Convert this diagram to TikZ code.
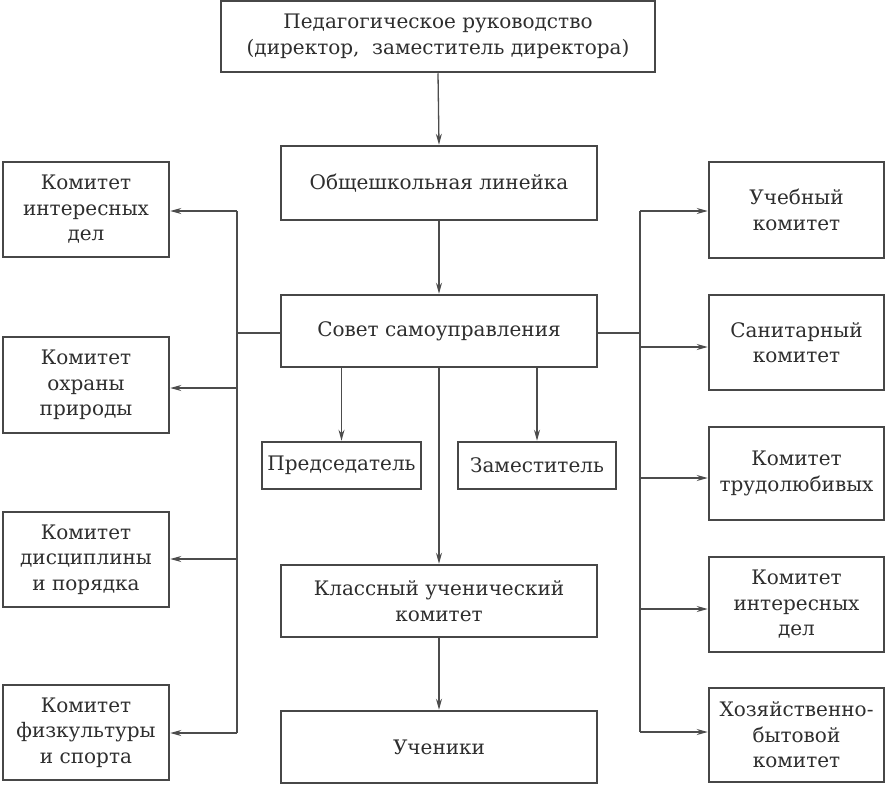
\documentclass[tikz,border=0pt]{standalone}
\usepackage{fontspec}
\setmainfont{DejaVu Serif}
\usetikzlibrary{arrows.meta,calc}
\begin{document}
\begin{tikzpicture}[x=1pt,y=-1pt,
  box/.style={draw=black!72,line width=2.5pt,fill=white,align=center,inner sep=0pt,
    font=\fontsize{20}{25.5}\selectfont,text=black!82},
  conn/.style={draw=black!70,line width=1.3pt},
  arr/.style={conn,-{Stealth[length=11pt,width=6pt]}}]
\useasboundingbox[fill=white] (0,0) rectangle (886,785);
\node[box,minimum width=434pt,minimum height=71pt] (top) at (438,36.5) {Педагогическое руководство\\(директор, \ заместитель директора)};
\node[box,minimum width=316pt,minimum height=74pt] (obs) at (439,183) {Общешкольная линейка};
\node[box,minimum width=316pt,minimum height=72pt] (sovet) at (439,331) {Совет самоуправления};
\node[box,minimum width=159pt,minimum height=47pt] (pred) at (341.5,465.5) {Председатель};
\node[box,minimum width=158pt,minimum height=47pt] (zam) at (537,465.5) {Заместитель};
\node[box,minimum width=316pt,minimum height=72pt] (klass) at (439,601) {Классный ученический\\комитет};
\node[box,minimum width=316pt,minimum height=72pt] (uch) at (439,747) {Ученики};
\node[box,minimum width=166pt,minimum height=95pt] (L1) at (86,209.5) {Комитет\\интересных\\дел};
\node[box,minimum width=166pt,minimum height=96pt] (L2) at (86,385) {Комитет\\охраны\\природы};
\node[box,minimum width=166pt,minimum height=95pt] (L3) at (86,559.5) {Комитет\\дисциплины\\и порядка};
\node[box,minimum width=166pt,minimum height=95pt] (L4) at (86,732.5) {Комитет\\физкультуры\\и спорта};
\node[box,minimum width=175pt,minimum height=96pt] (R1) at (796.5,210) {Учебный\\комитет};
\node[box,minimum width=175pt,minimum height=95pt] (R2) at (796.5,342.5) {Санитарный\\комитет};
\node[box,minimum width=175pt,minimum height=93pt] (R3) at (796.5,473.5) {Комитет\\трудолюбивых};
\node[box,minimum width=175pt,minimum height=95pt] (R4) at (796.5,604.5) {Комитет\\интересных\\дел};
\node[box,minimum width=175pt,minimum height=94pt] (R5) at (796.5,735) {Хозяйственно-\\бытовой\\комитет};
\coordinate (lb) at (237,0);
\coordinate (rb) at (640,0);
% centre chain
\draw[arr] (top.south) -- (obs.north);
\draw[arr] (obs.south) -- (sovet.north);
\draw[arr] (sovet.south) -- (klass.north);
\draw[arr] (klass.south) -- (uch.north);
\draw[arr] (pred.north |- sovet.south) -- (pred.north);
\draw[arr] (zam.north |- sovet.south) -- (zam.north);
% buses
\draw[conn] ([yshift=-2pt]sovet.west) -- ([yshift=-2pt]sovet.west -| lb);
\draw[conn] ([yshift=-2pt]sovet.east) -- ([yshift=-2pt]sovet.east -| rb);
\draw[conn] ([yshift=-1.5pt]L1.east -| lb) -- ([yshift=-0.5pt]L4.east -| lb);
\draw[conn] ([yshift=-1pt]R1.east -| rb) -- ([yshift=3pt]R5.west -| rb);
\draw[arr] ([yshift=-1.5pt]L1.east -| lb) -- ([yshift=-1.5pt]L1.east);
\draw[arr] ([yshift=-3pt]L2.east -| lb) -- ([yshift=-3pt]L2.east);
\draw[arr] ([yshift=0.5pt]L3.east -| lb) -- ([yshift=0.5pt]L3.east);
\draw[arr] ([yshift=-0.5pt]L4.east -| lb) -- ([yshift=-0.5pt]L4.east);
\draw[arr] ([yshift=-1pt]R1.west -| rb) -- ([yshift=-1pt]R1.west);
\draw[arr] ([yshift=-4.5pt]R2.west -| rb) -- ([yshift=-4.5pt]R2.west);
\draw[arr] ([yshift=-4.5pt]R3.west -| rb) -- ([yshift=-4.5pt]R3.west);
\draw[arr] ([yshift=-4.5pt]R4.west -| rb) -- ([yshift=-4.5pt]R4.west);
\draw[arr] ([yshift=3pt]R5.west -| rb) -- ([yshift=3pt]R5.west);
\end{tikzpicture}
\end{document}
